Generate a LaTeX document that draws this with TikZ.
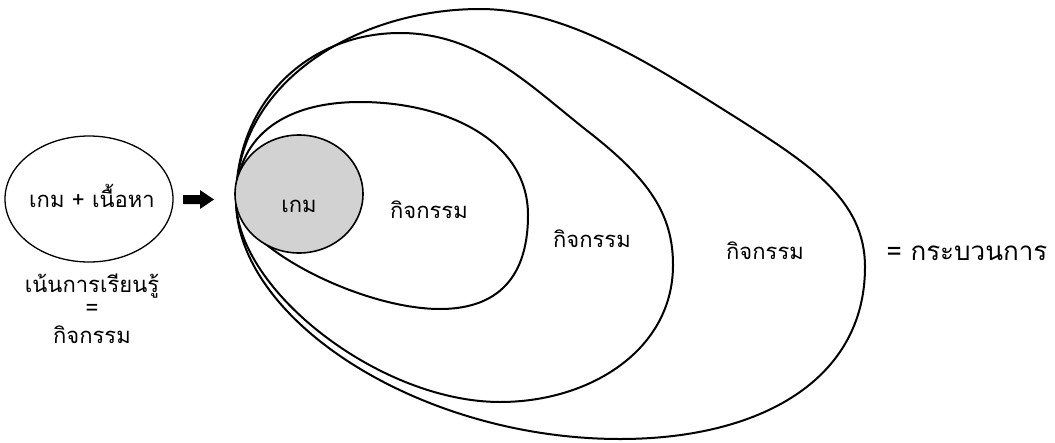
\documentclass[tikz,border=0pt]{standalone}
\usepackage{fontspec}
\newfontfamily\thai[Script=Thai]{Loma}
\begin{document}
\begin{tikzpicture}[x=1pt,y=-1pt,
  shapeline/.style={line width=2pt,line join=round},
  lbl/.style={font=\thai\fontsize{22}{25}\selectfont,anchor=base,inner sep=0pt},
  biglbl/.style={font=\thai\fontsize{26}{30}\selectfont,anchor=base,inner sep=0pt}]
\useasboundingbox (0,0) rectangle (1055,442);
% outer shape
\draw[shapeline] (236,200) .. controls (236,80) and (360,9) .. (480,9)
  .. controls (570,9) and (660,70) .. (740,120)
  .. controls (810,165) and (865,200) .. (865,267)
  .. controls (865,380) and (760,439) .. (620,439)
  .. controls (420,439) and (236,320) .. (236,200) -- cycle;
% medium shape
\draw[shapeline] (236,200) .. controls (236,100) and (310,33) .. (400,33)
  .. controls (480,33) and (530,86) .. (590,133)
  .. controls (650,180) and (673,215) .. (673,265)
  .. controls (673,350) and (590,402) .. (500,402)
  .. controls (380,402) and (236,290) .. (236,200) -- cycle;
% egg shape
\draw[shapeline] (236,200) .. controls (236,140) and (280,102) .. (360,102)
  .. controls (445,102) and (528,140) .. (528,215)
  .. controls (528,285) and (490,309) .. (440,309)
  .. controls (360,309) and (236,245) .. (236,200) -- cycle;
% gray ellipse
\draw[line width=1.6pt,fill=gray!35] (299,194) ellipse [x radius=64,y radius=59];
% left ellipse
\draw[line width=1.3pt] (89,199) ellipse [x radius=84,y radius=63];
% arrow
\fill (183,195) -- (200,195) -- (200,190) -- (214,199.5) -- (200,209) -- (200,204) -- (183,204) -- cycle;
% texts
\node[lbl] (t1) at (92,207) {เกม + เนื้อหา};
\node[lbl] (t2) at (92,292) {เน้นการเรียนรู้};
\node[lbl,anchor=center] (t3) at (92,310) {=};
\node[lbl] (t4) at (92,343) {กิจกรรม};
\node[lbl] (g) at (299,212) {เกม};
\node[lbl] (a1) at (429,218) {กิจกรรม};
\node[lbl] (a2) at (592,247) {กิจกรรม};
\node[lbl] (a3) at (765,259) {กิจกรรม};
\node[biglbl] (p) at (967,260) {= กระบวนการ};
\end{tikzpicture}
\end{document}
